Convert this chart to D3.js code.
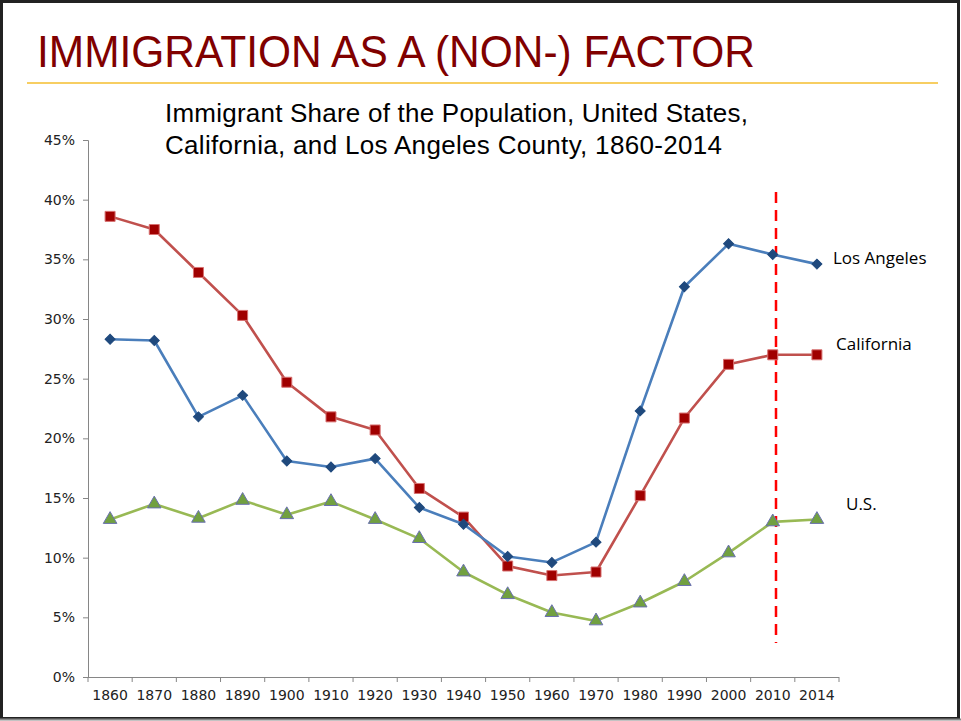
<!DOCTYPE html>
<html>
<head>
<meta charset="utf-8">
<script src="https://cdn.jsdelivr.net/npm/d3@7"></script>
<style>
body { margin:0; background:#fff; }
svg { display:block; }
</style>
</head>
<body>
<svg id="chart" width="961" height="721"></svg>
<script>
"use strict";

var years = ["1860","1870","1880","1890","1900","1910","1920","1930","1940","1950","1960","1970","1980","1990","2000","2010","2014"];
var losAngeles = [28.3,28.2,21.8,23.6,18.1,17.6,18.3,14.2,12.8,10.1,9.6,11.3,22.3,32.7,36.3,35.4,34.6];
var california = [38.6,37.5,33.9,30.3,24.7,21.8,20.7,15.8,13.4,9.3,8.5,8.8,15.2,21.7,26.2,27.0,27.0];
var unitedStates = [13.2,14.5,13.3,14.8,13.6,14.7,13.2,11.6,8.8,6.9,5.4,4.7,6.2,8.0,10.4,13.0,13.2];
var yTicks = [0,5,10,15,20,25,30,35,40,45];

var svg = d3.select("#chart");

//
//	slide frame, heading and rule
//
svg.append("rect").attr("x",1.5).attr("y",1.5).attr("width",957).attr("height",717)
	.attr("fill","none").attr("stroke","#222").attr("stroke-width",3);
svg.append("line").attr("x1",0).attr("x2",961).attr("y1",719.5).attr("y2",719.5)
	.attr("stroke","#888").attr("stroke-width",2);

svg.append("text").attr("x",37).attr("y",67)
	.attr("textLength",718).attr("lengthAdjust","spacingAndGlyphs")
	.style("font-family","'Liberation Sans Narrow','Liberation Sans',Arial,sans-serif")
	.style("font-size","44px").attr("fill","#800000")
	.text("IMMIGRATION AS A (NON-) FACTOR");

svg.append("line").attr("x1",27).attr("x2",938).attr("y1",83).attr("y2",83)
	.attr("stroke","#F5BE2E").attr("stroke-width",1.5);

var sub = svg.append("text")
	.style("font-family","'Liberation Sans',Arial,sans-serif")
	.style("font-size","26px").attr("fill","#000");
sub.append("tspan").attr("x",165).attr("y",122).attr("textLength",583)
	.text("Immigrant Share of the Population, United States,");
sub.append("tspan").attr("x",165).attr("y",154).attr("textLength",557)
	.text("California, and Los Angeles County, 1860-2014");

//
//	scales and axes
//
var x = d3.scaleBand().domain(years).range([88,839]);
var y = d3.scaleLinear().domain([0,45]).range([677,140]);
function cx(d, i){ return x(years[i]) + x.bandwidth()/2; }

var yAxis = svg.append("g").attr("transform","translate(88,0)")
	.call(d3.axisLeft(y).tickValues(yTicks).tickSize(5).tickPadding(8).tickFormat(function(d){ return d + "%"; }));
var xAxis = svg.append("g").attr("transform","translate(0,677)")
	.call(d3.axisBottom(x).tickSize(0).tickPadding(13));

// band boundary ticks like the spreadsheet axis
svg.append("g").selectAll("line").data(years.concat([""])).join("line")
	.attr("x1",function(d,i){ return 88 + i*x.bandwidth(); })
	.attr("x2",function(d,i){ return 88 + i*x.bandwidth(); })
	.attr("y1",677).attr("y2",682)
	.attr("stroke","#868686").attr("stroke-width",1);

[yAxis, xAxis].forEach(function(a){
	a.select(".domain").attr("stroke","#868686");
	a.selectAll(".tick line").attr("stroke","#868686");
	a.selectAll("text").style("font-family","'DejaVu Sans',Verdana,sans-serif")
		.style("font-size","14px").attr("fill","#222");
});
xAxis.select(".domain").attr("d","M88,0.5H839");

//
//	2010 marker line
//
svg.append("line").attr("x1",776).attr("x2",776).attr("y1",192).attr("y2",643)
	.attr("stroke","#FF0000").attr("stroke-width",2.5).attr("stroke-dasharray","11,7");

//
//	series
//
var line = d3.line().x(cx).y(function(d){ return y(d); });

function drawSeries(values, color, symbol, size, rot, fill, stroke){
	var g = svg.append("g");
	g.append("path").datum(values).attr("d",line).attr("fill","none")
		.attr("stroke",color).attr("stroke-width",2.6).attr("stroke-linejoin","round");
	g.selectAll("path.m").data(values).join("path").attr("class","m")
		.attr("transform",function(d,i){ return "translate(" + cx(d,i) + "," + y(d) + ") rotate(" + rot + ")"; })
		.attr("d",d3.symbol().type(symbol).size(size))
		.attr("fill",fill).attr("stroke",stroke).attr("stroke-width",1);
}

drawSeries(unitedStates, "#98B954", d3.symbolTriangle, 80, 0, "#71A040", "#6A70B0");
drawSeries(california, "#C0504D", d3.symbolSquare, 100, 0, "#A00000", "#D77070");
drawSeries(losAngeles, "#4A7EBB", d3.symbolSquare, 50, 45, "#1F497D", "#1F497D");

//
//	direct labels
//
var labels = [
	{name:"Los Angeles", x:833, y:264},
	{name:"California", x:836, y:350},
	{name:"U.S.", x:846, y:510}
];
svg.append("g").selectAll("text").data(labels).join("text")
	.attr("x",function(d){ return d.x; }).attr("y",function(d){ return d.y; })
	.style("font-family","'Open Sans','Liberation Sans',sans-serif")
	.style("font-size","17px").attr("fill","#000")
	.text(function(d){ return d.name; });
</script>
</body>
</html>
